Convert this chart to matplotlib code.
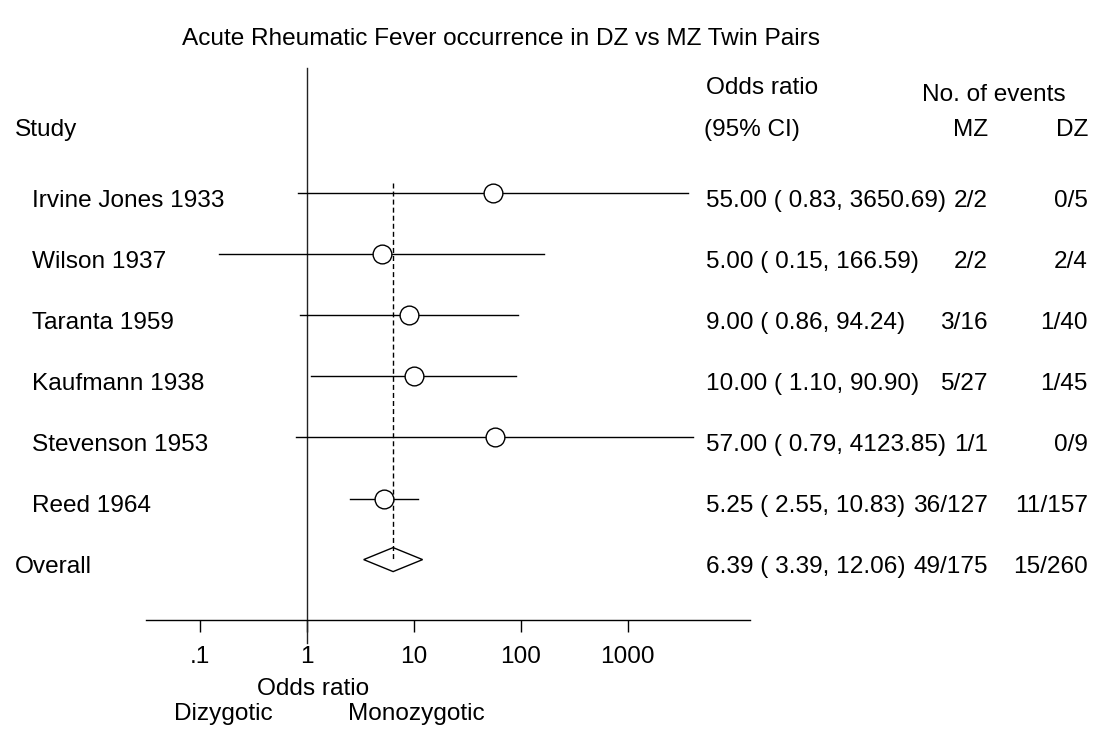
import matplotlib
matplotlib.use("Agg")
import matplotlib.pyplot as plt
from matplotlib.transforms import blended_transform_factory
from matplotlib.patches import Polygon
from matplotlib.ticker import NullLocator

# ---------------- data ----------------
studies = ["Irvine Jones 1933", "Wilson 1937", "Taranta 1959", "Kaufmann 1938",
           "Stevenson 1953", "Reed 1964"]
odds = [55.00, 5.00, 9.00, 10.00, 57.00, 5.25]
ci_low = [0.83, 0.15, 0.86, 1.10, 0.79, 2.55]
ci_high = [3650.69, 166.59, 94.24, 90.90, 4123.85, 10.83]
mz_events = ["2/2", "2/2", "3/16", "5/27", "1/1", "36/127"]
dz_events = ["0/5", "2/4", "1/40", "1/45", "0/9", "11/157"]

overall_label = "Overall"
overall_or = 6.39
overall_low = 3.39
overall_high = 12.06
overall_mz = "49/175"
overall_dz = "15/260"

tick_values = [0.1, 1, 10, 100, 1000]
tick_labels = [".1", "1", "10", "100", "1000"]

title = "Acute Rheumatic Fever occurrence in DZ vs MZ Twin Pairs"

# ---------------- layout ----------------
plt.rcParams['font.family'] = ['Liberation Sans', 'DejaVu Sans']
FS = 17.6
W, H = 1097, 741
fig = plt.figure(figsize=(W / 100, H / 100), dpi=100)

AX_L, AX_R = 146, 750
AX_TOP, AX_BOT = 68, 620
ROW0, ROWH = 193, 61.1
X1, DEC = 307, 106.9

ax = fig.add_axes([AX_L / W, 1 - AX_BOT / H, (AX_R - AX_L) / W, (AX_BOT - AX_TOP) / H])
ax.set_xscale('log')
ax.set_xlim(10 ** ((AX_L - X1) / DEC), 10 ** ((AX_R - X1) / DEC))


def yd(p):
    return (p - ROW0) / ROWH


ax.set_ylim(yd(AX_BOT), yd(AX_TOP))
for s in ['top', 'left', 'right']:
    ax.spines[s].set_visible(False)
ax.spines['bottom'].set_linewidth(1.0)
ax.set_yticks([])
ax.set_xticks(tick_values)
ax.set_xticklabels(tick_labels, fontsize=FS)
ax.xaxis.set_minor_locator(NullLocator())
ax.tick_params(axis='x', direction='out', length=8.6, width=1.0, pad=10)

# reference line at 1
ax.plot([1, 1], [yd(AX_TOP), yd(643)], color='#222222', lw=1.0, clip_on=False)
# overall dashed line
ax.plot([overall_or, overall_or], [yd(183), len(studies)], color='black', lw=1.0,
        ls=(0, (3.6, 2.2)))

# studies
for i in range(len(studies)):
    ax.plot([ci_low[i], ci_high[i]], [i, i], color='black', lw=1.0)
    ax.plot(odds[i], i, 'o', mfc='white', mec='black', ms=13.5, mew=1.0)

# overall diamond
yo = len(studies)
h = 12 / ROWH
diamond = Polygon([(overall_low, yo), (overall_or, yo - h), (overall_high, yo),
                   (overall_or, yo + h)], closed=True, fill=False, ec='black', lw=1.0)
ax.add_patch(diamond)

# ---------------- text ----------------
tr = blended_transform_factory(fig.transFigure, ax.transData)
BL = 13.6 / ROWH  # baseline offset below row centre


def txt(xpx, y, s, ha='left'):
    fig.text(xpx / W, y, s, transform=tr, ha=ha, va='baseline', fontsize=FS)


def ftxt(xpx, ypx, s, ha='left'):
    fig.text(xpx / W, 1 - ypx / H, s, ha=ha, va='baseline', fontsize=FS)


for i in range(len(studies)):
    txt(32, i + BL, studies[i])
    txt(706, i + BL, f"{odds[i]:.2f} ( {ci_low[i]:.2f}, {ci_high[i]:.2f})")
    txt(988, i + BL, mz_events[i], ha='right')
    txt(1088, i + BL, dz_events[i], ha='right')

txt(15, yo + BL, overall_label)
txt(706, yo + BL, f"{overall_or:.2f} ( {overall_low:.2f}, {overall_high:.2f})")
txt(988, yo + BL, overall_mz, ha='right')
txt(1088, yo + BL, overall_dz, ha='right')

# headers
ftxt(15, 136, "Study")
ftxt(706, 94, "Odds ratio")
ftxt(704, 136, "(95% CI)")
ftxt(922, 101, "No. of events")
ftxt(988, 136, "MZ", ha='right')
ftxt(1088, 136, "DZ", ha='right')

# title and axis captions
ftxt(501, 45, title, ha='center')
ftxt(313, 695, "Odds ratio", ha='center')
ftxt(223, 720, "Dizygotic", ha='center')
ftxt(416, 720, "Monozygotic", ha='center')

fig.savefig("out.png", dpi=100)
